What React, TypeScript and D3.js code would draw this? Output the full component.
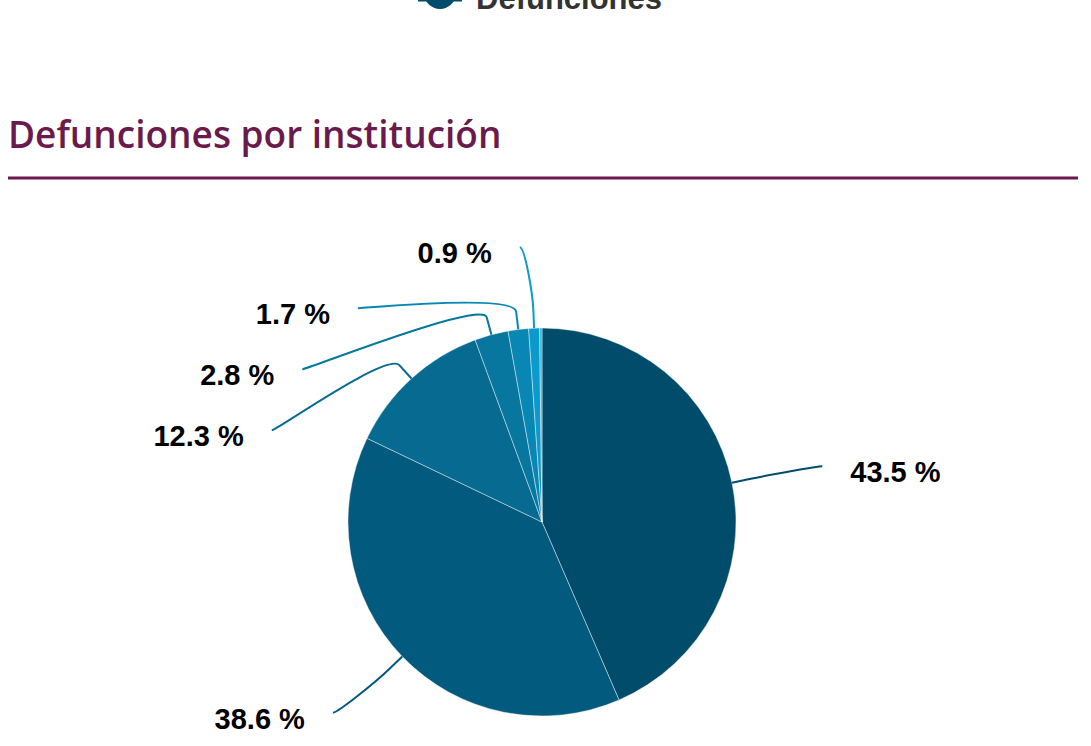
import React from 'react';
import * as d3 from 'd3';

// ---- data ----
const sliceValues: number[] = [43.5, 38.6, 12.3, 2.8, 1.7, 0.9, 0.2];
const sliceColors: string[] = ['#024c6b', '#035a7f', '#066a91', '#0777a0', '#0887b4', '#0a9acb', '#2bb4e0'];
const sliceLabeled: boolean[] = [true, true, true, true, true, true, false];
const titleText = 'Defunciones por institución';
const legendText = 'Defunciones';

const W = 1091;
const H = 746;

export default function App() {
  const cx = 542;
  const cy = 522;
  const r = 194;
  const labelR = 275;
  const breakR = r + 18;
  const minGap = 61;

  const pie = d3.pie<number>().sort(null).value((d) => d).startAngle(0).endAngle(2 * Math.PI);
  const arcs = pie(sliceValues);
  const arcGen = d3.arc<d3.PieArcDatum<number>>().innerRadius(0).outerRadius(r);

  const pt = (a: number, rad: number) => [cx + rad * Math.sin(a), cy - rad * Math.cos(a)];

  type Lab = { i: number; mid: number; left: boolean; y: number; x: number };
  const labs: Lab[] = arcs
    .map((a, i) => {
      const mid = (a.startAngle + a.endAngle) / 2;
      return { i, mid, left: mid > Math.PI, y: pt(mid, labelR)[1], x: 0 };
    })
    .filter((l) => sliceLabeled[l.i]);

  [true, false].forEach((side) => {
    const group = labs.filter((l) => l.left === side).sort((a, b) => a.y - b.y);
    let prev = -Infinity;
    group.forEach((l) => {
      l.y = Math.max(l.y, prev + minGap);
      prev = l.y;
    });
  });
  labs.forEach((l) => {
    const dy = l.y - cy;
    const dx = Math.sqrt(Math.max(labelR * labelR - dy * dy, 0)) + 11;
    l.x = cx + (l.left ? -dx : dx);
  });

  const fmt = (v: number) => `${v.toFixed(1)} %`;

  return (
    <svg
      width={W}
      height={H}
      style={{ position: 'absolute', left: 0, top: 0, background: '#fff' }}
    >
      {/* legend (partially cut off at top) */}
      <g>
        <line x1={418} x2={462} y1={-1} y2={-1} stroke={sliceColors[0]} strokeWidth={5} />
        <circle cx={440} cy={-7} r={16} fill={sliceColors[0]} />
        <text
          x={476}
          y={9}
          fontFamily="'Liberation Sans', Arial, sans-serif"
          fontWeight="bold"
          fontSize={31}
          fill="#333333"
        >
          {legendText}
        </text>
      </g>

      {/* title */}
      <text x={8} y={148} fontFamily="'Open Sans', sans-serif" fontWeight={600} fontSize={37} fill="#6a1a4c">
        {titleText}
      </text>
      <line x1={8} x2={1078} y1={178} y2={178} stroke="#6a1a4c" strokeWidth={3} />

      {/* slices */}
      <g transform={`translate(${cx},${cy})`}>
        {arcs.map((a, i) => (
          <path key={i} d={arcGen(a) || ''} fill={sliceColors[i]} stroke="#ffffff" strokeWidth={0.6} strokeOpacity={0.7} />
        ))}
      </g>

      {/* connectors and labels */}
      {labs.map((l) => {
        const [tx, ty] = pt(l.mid, r);
        const [bx, by] = pt(l.mid, breakR);
        const c1x = l.x + (l.left ? 5 : -5);
        const d = `M${l.x},${l.y} C${c1x},${l.y} ${2 * bx - tx},${2 * by - ty} ${bx},${by} L${tx},${ty}`;
        return (
          <g key={l.i}>
            <path d={d} fill="none" stroke={sliceColors[l.i]} strokeWidth={2} />
            <text
              x={l.left ? l.x - 28 : l.x + 28}
              y={l.y + 16}
              textAnchor={l.left ? 'end' : 'start'}
              fontFamily="'Liberation Sans', Arial, sans-serif"
              fontWeight="bold"
              fontSize={29}
              fill="#000000"
            >
              {fmt(sliceValues[l.i])}
            </text>
          </g>
        );
      })}
    </svg>
  );
}
